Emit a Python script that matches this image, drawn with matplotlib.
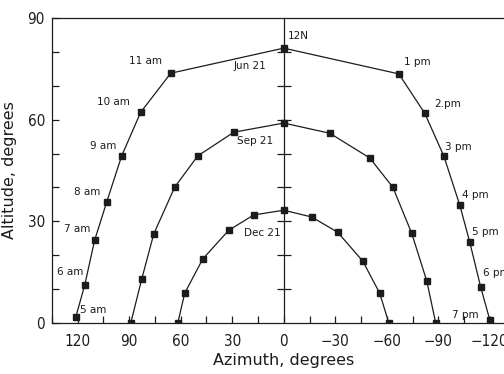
import matplotlib
matplotlib.use("Agg")
import matplotlib.pyplot as plt

# ---- data (azimuth deg, altitude deg), hourly points ----
jun_az = [121.1, 115.9, 110.1, 103.1, 94.4, 83.3, 65.8, 0.0, -67.0, -82.1, -93.2, -102.5, -108.3, -114.7, -120.0]
jun_alt = [1.8, 11.2, 24.5, 35.7, 49.3, 62.2, 73.7, 81.1, 73.5, 61.9, 49.3, 34.8, 23.9, 10.6, 0.9]

sep_az = [89.1, 82.7, 75.7, 63.5, 50.1, 29.1, 0.0, -26.8, -50.1, -63.5, -74.5, -83.3, -88.5]
sep_alt = [0.0, 13.0, 26.3, 40.1, 49.3, 56.3, 59.0, 56.0, 48.7, 40.1, 26.5, 12.4, 0.0]

dec_az = [61.7, 57.7, 47.2, 32.0, 17.5, 0.0, -16.3, -31.4, -46.0, -55.9, -61.2]
dec_alt = [0.0, 8.8, 18.9, 27.4, 31.9, 33.3, 31.3, 26.8, 18.3, 8.8, 0.0]

x_ticks = [120, 90, 60, 30, 0, -30, -60, -90, -120]
x_tick_labels = ["120", "90", "60", "30", "0", "\u221230", "\u221260", "\u221290", "\u2212120"]
y_ticks = [0, 30, 60, 90]
y_tick_labels = ["0", "30", "60", "90"]

hour_labels = ["5 am", "6 am", "7 am", "8 am", "9 am", "10 am", "11 am", "12N",
               "1 pm", "2.pm", "3 pm", "4 pm", "5 pm", "6 pm", "7 pm"]
curve_labels = ["Jun 21", "Sep 21", "Dec 21"]

# ---- annotation positions (data coords) ----
hour_label_pos = [(110.7, 3.8), (124.1, 15.0), (120.0, 27.7), (114.2, 38.6), (105.4, 52.2),
                  (99.0, 65.2), (80.4, 77.3), (-8.2, 84.7),
                  (-78.0, 77.0), (-95.5, 64.6), (-101.9, 51.9), (-111.8, 37.8),
                  (-117.6, 26.8), (-123.5, 14.7), (-106.0, 2.4)]
curve_label_pos = [(19.8, 75.8), (16.9, 53.7), (12.2, 26.5)]
meridian_ticks = [10, 20, 30, 40, 50, 60, 70, 80]

ink = "#1c1c1c"
plt.rcParams["font.family"] = ["DejaVu Sans"]

fig = plt.figure(figsize=(5.04, 3.74), dpi=100)
ax = fig.add_axes([0.103, 0.136, 0.92, 0.816])

for az, alt in [(jun_az, jun_alt), (sep_az, sep_alt), (dec_az, dec_alt)]:
    ax.plot(az, alt, color=ink, lw=0.9, marker="s", ms=4, mfc=ink, mec=ink, zorder=3)

# meridian line with cross ticks
ax.plot([0, 0], [0, 90], color=ink, lw=0.9, zorder=2)
ax.plot([0] * len(meridian_ticks), meridian_ticks, ls="none", marker="_", ms=10,
        mew=0.9, color=ink, zorder=2)

ax.set_xlim(135, -135)
ax.set_ylim(0, 90)

ax.set_xticks(x_ticks)
ax.set_xticklabels(x_tick_labels)
ax.set_xticks(range(-135, 136, 15), minor=True)
ax.set_yticks(y_ticks)
ax.set_yticklabels(y_tick_labels)
ax.set_yticks(range(0, 91, 10), minor=True)

ax.tick_params(axis="both", which="both", direction="in", color=ink, width=0.9)
ax.tick_params(axis="both", which="major", length=5, labelsize=11, labelcolor=ink)
ax.tick_params(axis="both", which="minor", length=5)
ax.tick_params(axis="x", which="major", pad=8)
ax.tick_params(axis="y", which="major", pad=5)
for lab in ax.get_xticklabels() + ax.get_yticklabels():
    lab.set_fontstretch("condensed")

for s in ["left", "bottom", "top", "right"]:
    ax.spines[s].set_color(ink)
    ax.spines[s].set_linewidth(0.9)

ax.set_xlabel("Azimuth, degrees", fontsize=11.5, color=ink, labelpad=3)
ax.set_ylabel("Altitude, degrees", fontsize=11.5, color=ink)
ax.yaxis.set_label_coords(-0.075, 0.5)

for txt, (x, y) in zip(hour_labels, hour_label_pos):
    ax.text(x, y, txt, fontsize=7.5, color=ink, ha="center", va="center")
for txt, (x, y) in zip(curve_labels, curve_label_pos):
    ax.text(x, y, txt, fontsize=7.5, color=ink, ha="center", va="center")

fig.savefig("out.png", dpi=100, facecolor="white")
